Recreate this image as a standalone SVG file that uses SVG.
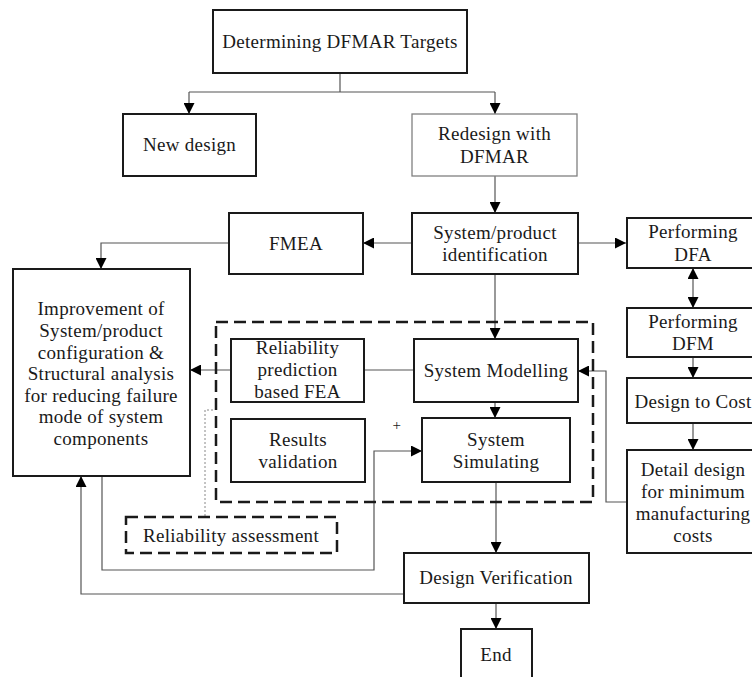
<svg xmlns="http://www.w3.org/2000/svg" width="752" height="677" viewBox="0 0 752 677">
<defs>
<style>
.box{fill:#fff;stroke:#1a1a1a;stroke-width:2}
.thin{fill:#fff;stroke:#808080;stroke-width:1.3}
.dash{fill:none;stroke:#1a1a1a;stroke-width:2.5;stroke-dasharray:12 6}
.ln{fill:none;stroke:#555;stroke-width:1.2}
.dot{fill:none;stroke:#888;stroke-width:1;stroke-dasharray:2 2}
text{font-family:"Liberation Serif","Times New Roman",serif;font-size:19px;letter-spacing:0.3px;fill:#1a1a1a;text-anchor:middle}
</style>
<marker id="ah" viewBox="0 0 10 10" refX="10" refY="5" markerWidth="11" markerHeight="11" markerUnits="userSpaceOnUse" orient="auto-start-reverse">
<path d="M0,0 L10,5 L0,10 Z" fill="#000"/>
</marker>
</defs>
<rect width="752" height="677" fill="#fff"/>

<g id="connectors">
<path class="ln" d="M340,73 V92 M189,92 H495"/>
<path class="ln" d="M189,92 V114" marker-end="url(#ah)"/>
<path class="ln" d="M495,92 V114" marker-end="url(#ah)"/>
<path class="ln" d="M495,176 V213" marker-end="url(#ah)"/>
<path class="ln" d="M412,243 H363" marker-end="url(#ah)"/>
<path class="ln" d="M229,243 H101 V269" marker-end="url(#ah)"/>
<path class="ln" d="M578,243 H626" marker-end="url(#ah)"/>
<path class="ln" d="M693,268 V308" marker-start="url(#ah)" marker-end="url(#ah)"/>
<path class="ln" d="M693,357 V378" marker-end="url(#ah)"/>
<path class="ln" d="M693,423 V450" marker-end="url(#ah)"/>
<path class="ln" d="M495,274 V339" marker-end="url(#ah)"/>
<path class="ln" d="M414,370 H364"/>
<path class="ln" d="M231,370 H190" marker-end="url(#ah)"/>
<path class="ln" d="M626,502 H606 V371 H578" marker-end="url(#ah)"/>
<path class="ln" d="M495,402 V418" marker-end="url(#ah)"/>
<path class="ln" d="M102,476 V570 H374 V451 H422" marker-end="url(#ah)"/>
<path class="ln" d="M496,482 V553" marker-end="url(#ah)"/>
<path class="ln" d="M404,594 H81 V476" marker-end="url(#ah)"/>
<path class="ln" d="M496,603 V629" marker-end="url(#ah)"/>
<path class="dot" d="M213,410 H205 V517"/>
</g>

<g id="reliability-group">
<rect class="dash" x="216" y="322" width="377" height="180"/>
</g>

<g id="n-targets">
<rect class="box" x="213" y="10" width="254" height="63"/>
<text x="340" y="48">Determining DFMAR Targets</text>
</g>
<g id="n-new">
<rect class="box" x="123" y="114" width="133" height="62"/>
<text x="189.5" y="151">New design</text>
</g>
<g id="n-redesign">
<rect class="thin" x="412" y="114" width="165" height="62"/>
<text x="494.5" y="140">Redesign with</text>
<text x="494.5" y="163">DFMAR</text>
</g>
<g id="n-fmea">
<rect class="box" x="229" y="213" width="134" height="61"/>
<text x="296" y="250">FMEA</text>
</g>
<g id="n-identification">
<rect class="box" x="412" y="213" width="166" height="61"/>
<text x="495" y="239">System/product</text>
<text x="495" y="261">identification</text>
</g>
<g id="n-dfa">
<rect class="box" x="627" y="218" width="133" height="50"/>
<text x="693" y="238">Performing</text>
<text x="693" y="261">DFA</text>
</g>
<g id="n-dfm">
<rect class="box" x="627" y="308" width="133" height="49"/>
<text x="693" y="328">Performing</text>
<text x="693" y="350">DFM</text>
</g>
<g id="n-cost">
<rect class="box" x="627" y="378" width="133" height="45"/>
<text x="693" y="408">Design to Cost</text>
</g>
<g id="n-detail">
<rect class="box" x="627" y="450" width="133" height="103"/>
<text x="693" y="476">Detail design</text>
<text x="693" y="498">for minimum</text>
<text x="693" y="520">manufacturing</text>
<text x="693" y="542">costs</text>
</g>
<g id="n-improvement">
<rect class="box" x="13" y="269" width="177" height="207"/>
<text x="101" y="315">Improvement of</text>
<text x="101" y="337">System/product</text>
<text x="101" y="359">configuration &amp;</text>
<text x="101" y="380">Structural analysis</text>
<text x="101" y="402">for reducing failure</text>
<text x="101" y="423">mode of system</text>
<text x="101" y="445">components</text>
</g>
<g id="n-prediction">
<rect class="box" x="231" y="339" width="133" height="63"/>
<text x="297.5" y="354">Reliability</text>
<text x="297.5" y="376">prediction</text>
<text x="297.5" y="398">based FEA</text>
</g>
<g id="n-modelling">
<rect class="box" x="414" y="339" width="164" height="63"/>
<text x="496" y="377">System Modelling</text>
</g>
<g id="n-validation">
<rect class="box" x="231" y="419" width="134" height="63"/>
<text x="298" y="446">Results</text>
<text x="298" y="468">validation</text>
</g>
<g id="n-simulating">
<rect class="box" x="422" y="418" width="148" height="64"/>
<text x="496" y="446">System</text>
<text x="496" y="468">Simulating</text>
</g>
<text x="397" y="430" style="font-size:15px">+</text>
<g id="n-assessment">
<rect class="dash" x="126" y="517" width="211" height="36"/>
<text x="231" y="542">Reliability assessment</text>
</g>
<g id="n-verification">
<rect class="box" x="404" y="553" width="185" height="50"/>
<text x="496" y="584">Design Verification</text>
</g>
<g id="n-end">
<rect class="box" x="461" y="629" width="71" height="60"/>
<text x="496" y="661">End</text>
</g>
</svg>
